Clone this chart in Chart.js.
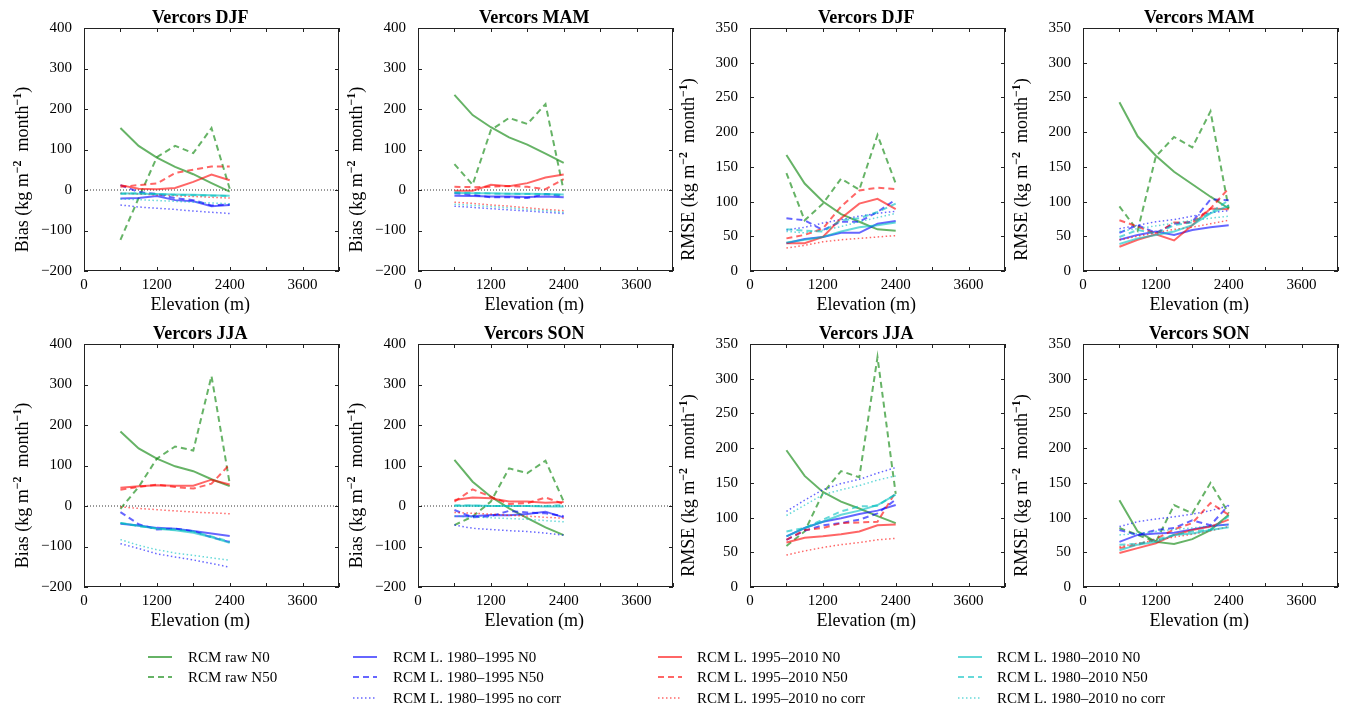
<!DOCTYPE html>
<html>
<head>
<meta charset="utf-8">
<script src="https://cdn.jsdelivr.net/npm/chart.js@4.4.1/dist/chart.umd.min.js"></script>
<style>
  body { margin: 0; background: #fff; width: 1349px; height: 709px; position: relative; overflow: hidden; font-family: "Liberation Serif", serif; }
  canvas { position: absolute; }
  .leg { position: absolute; font-size: 15px; line-height: 16px; white-space: nowrap; color: #000; }
  .leg svg { position: absolute; }
</style>
</head>
<body>
<script>
// elevation bands (m)
const elevations = [600, 900, 1200, 1500, 1800, 2100, 2400];

const seriesLabels = [
  "RCM raw N0", "RCM raw N50",
  "RCM L. 1980–1995 N0", "RCM L. 1980–1995 N50", "RCM L. 1980–1995 no corr",
  "RCM L. 1995–2010 N0", "RCM L. 1995–2010 N50", "RCM L. 1995–2010 no corr",
  "RCM L. 1980–2010 N0", "RCM L. 1980–2010 N50", "RCM L. 1980–2010 no corr",
];

// rows follow seriesLabels order
const biasDJF = [
  [153, 109, 80, 57, 39, 17, -4],
  [-123, -20, 81, 109, 91, 153, 3],
  [-21, -20, -15, -25, -28, -40, -37],
  [12, -5, -10, -20, -25, -38, -36],
  [-37, -42, -45, -48, -52, -55, -58],
  [12, 3, 2, 5, 20, 38, 24],
  [8, 12, 16, 42, 50, 58, 58],
  [-8, -10, -12, -14, -16, -18, -20],
  [-8, -9, -10, -11, -12, -13, -14],
  [-10, -8, -10, -12, -13, -14, -15],
  [-22, -24, -26, -28, -30, -32, -34],
];
const biasMAM = [
  [235, 185, 155, 130, 112, 90, 67],
  [64, 13, 148, 178, 163, 212, -2],
  [-14, -15, -16, -16, -17, -16, -18],
  [-8, -12, -18, -18, -20, -10, -15],
  [-40, -43, -46, -49, -52, -55, -58],
  [-2, -2, 13, 9, 17, 31, 38],
  [8, 7, 8, 10, 8, 2, 27],
  [-30, -33, -37, -40, -44, -48, -51],
  [-7, -8, -8, -9, -9, -10, -11],
  [-6, -7, -9, -9, -10, -10, -12],
  [-35, -38, -41, -44, -48, -51, -55],
];
const rmseDJF = [
  [167, 126, 100, 82, 71, 60, 58],
  [141, 73, 97, 133, 117, 196, 126],
  [40, 46, 49, 55, 55, 68, 72],
  [76, 73, 59, 71, 71, 85, 103],
  [59, 63, 69, 74, 79, 83, 86],
  [40, 40, 49, 76, 97, 104, 89],
  [47, 52, 61, 93, 116, 120, 118],
  [33, 37, 42, 45, 47, 49, 51],
  [41, 45, 49, 57, 63, 66, 70],
  [60, 58, 57, 73, 76, 85, 97],
  [57, 55, 59, 64, 71, 77, 83],
];
const rmseMAM = [
  [243, 194, 166, 143, 125, 107, 90],
  [93, 58, 165, 193, 178, 230, 90],
  [45, 52, 57, 52, 59, 63, 66],
  [55, 66, 55, 68, 71, 103, 102],
  [61, 66, 71, 74, 79, 84, 87],
  [35, 45, 53, 44, 66, 90, 89],
  [73, 64, 53, 70, 70, 90, 119],
  [45, 50, 55, 60, 63, 68, 73],
  [39, 47, 52, 57, 66, 83, 94],
  [49, 59, 54, 66, 70, 84, 102],
  [57, 61, 65, 69, 73, 76, 79],
];
const biasJJA = [
  [184, 142, 117, 98, 86, 66, 49],
  [-7, 47, 117, 147, 137, 321, 55],
  [-44, -48, -54, -56, -62, -68, -74],
  [-15, -45, -58, -56, -62, -77, -89],
  [-93, -105, -118, -126, -133, -142, -151],
  [45, 49, 51, 50, 50, 65, 53],
  [40, 47, 53, 47, 43, 55, 103],
  [-2, -6, -9, -12, -15, -17, -19],
  [-42, -49, -56, -60, -66, -77, -91],
  [-42, -50, -55, -58, -63, -75, -88],
  [-83, -97, -108, -116, -122, -128, -134],
];
const biasSON = [
  [114, 60, 23, -6, -30, -53, -72],
  [-47, -26, 11, 93, 81, 112, 11],
  [-25, -25, -22, -23, -20, -14, -28],
  [-10, -28, -25, -12, -16, -18, -25],
  [-47, -55, -58, -61, -63, -67, -72],
  [15, 21, 19, 11, 11, 8, 10],
  [11, 41, 23, 5, 7, 21, 5],
  [-16, -18, -20, -23, -25, -28, -30],
  [0, 1, 0, 0, 0, -1, -1],
  [2, 1, 0, 0, 0, 0, 2],
  [-25, -27, -29, -31, -33, -36, -39],
];
const rmseJJA = [
  [197, 160, 137, 123, 113, 102, 92],
  [59, 80, 135, 167, 158, 331, 134],
  [73, 85, 94, 99, 105, 110, 118],
  [68, 81, 89, 92, 97, 106, 126],
  [109, 125, 140, 149, 155, 164, 172],
  [64, 71, 73, 76, 80, 89, 90],
  [68, 82, 85, 92, 93, 94, 137],
  [46, 52, 57, 61, 64, 68, 70],
  [73, 85, 94, 104, 110, 118, 133],
  [80, 85, 97, 109, 116, 117, 134],
  [103, 118, 133, 140, 146, 154, 160],
];
const rmseSON = [
  [125, 80, 65, 62, 69, 82, 104],
  [85, 75, 65, 118, 106, 150, 106],
  [65, 75, 77, 78, 83, 88, 90],
  [82, 75, 82, 85, 96, 89, 118],
  [87, 94, 98, 101, 105, 110, 117],
  [49, 56, 63, 75, 82, 87, 97],
  [56, 61, 69, 83, 92, 121, 104],
  [58, 63, 67, 72, 76, 81, 87],
  [53, 61, 65, 75, 77, 82, 86],
  [61, 62, 68, 75, 80, 83, 102],
  [75, 77, 80, 83, 85, 88, 90],
];

// styles
const GREEN = "rgba(0,128,0,0.6)";
const BLUE = "rgba(0,0,255,0.6)";
const RED = "rgba(255,0,0,0.6)";
const CYAN = "rgba(0,191,191,0.6)";
const seriesColors = [GREEN, GREEN, BLUE, BLUE, BLUE, RED, RED, RED, CYAN, CYAN, CYAN];
const SOLID = [], DASH = [6, 4], DOT = [1.5, 2.5];
const seriesDash = [SOLID, DASH, SOLID, DASH, DOT, SOLID, DASH, DOT, SOLID, DASH, DOT];
const seriesWidth = [2, 2, 2, 2, 1.5, 2, 2, 1.5, 2, 2, 1.5];

const FONT = "Liberation Serif";
const PLOT_W = 257;
const Y_AXIS_W = 84;
const RIGHT_PAD = 3;
const TOP_PAD = 28;
// trailing spaces nudge centred titles a little left of the plot centre, as in the reference
const NUDGE = "     ";

const panels = [
  { title: "Vercors DJF", data: biasDJF, kind: "bias", left: 84, top: 28 },
  { title: "Vercors MAM", data: biasMAM, kind: "bias", left: 418, top: 28 },
  { title: "Vercors DJF", data: rmseDJF, kind: "rmse", left: 750, top: 28 },
  { title: "Vercors MAM", data: rmseMAM, kind: "rmse", left: 1083, top: 28 },
  { title: "Vercors JJA", data: biasJJA, kind: "bias", left: 84, top: 344 },
  { title: "Vercors SON", data: biasSON, kind: "bias", left: 418, top: 344 },
  { title: "Vercors JJA", data: rmseJJA, kind: "rmse", left: 750, top: 344 },
  { title: "Vercors SON", data: rmseSON, kind: "rmse", left: 1083, top: 344 },
];

// box around the axes with inward ticks on all four sides
const framePlugin = {
  id: "frame",
  afterDraw(chart) {
    const { ctx, chartArea: a, scales } = chart;
    ctx.save();
    ctx.strokeStyle = "#222";
    ctx.lineWidth = 1;
    ctx.strokeRect(Math.round(a.left) + 0.5, Math.round(a.top) + 0.5, Math.round(a.width) - 1, Math.round(a.height) - 1);
    ctx.beginPath();
    scales.x.ticks.forEach((t) => {
      const px = Math.round(scales.x.getPixelForValue(t.value)) + 0.5;
      ctx.moveTo(px, a.bottom); ctx.lineTo(px, a.bottom - 4);
      ctx.moveTo(px, a.top); ctx.lineTo(px, a.top + 4);
    });
    scales.y.ticks.forEach((t) => {
      const py = Math.round(scales.y.getPixelForValue(t.value)) + 0.5;
      ctx.moveTo(a.left, py); ctx.lineTo(a.left + 4, py);
      ctx.moveTo(a.right, py); ctx.lineTo(a.right - 4, py);
    });
    ctx.stroke();
    ctx.restore();
  },
};

// y axis title with superscripts
const yTitlePlugin = {
  id: "yTitle",
  afterDraw(chart, args, opts) {
    const { ctx, chartArea: a } = chart;
    const parts = [
      { t: opts.name + " (kg m", sup: false },
      { t: "\u22122", sup: true },
      { t: "  month", sup: false },
      { t: "\u22121", sup: true },
      { t: ")", sup: false },
    ];
    const main = `18px "${FONT}"`;
    const small = `bold 12px "${FONT}"`;
    let total = 0;
    parts.forEach((p) => {
      ctx.font = p.sup ? small : main;
      p.w = ctx.measureText(p.t).width;
      total += p.w;
    });
    ctx.save();
    ctx.translate(a.left - 62, (a.top + a.bottom) / 2 + 20);
    ctx.rotate(-Math.PI / 2);
    ctx.fillStyle = "#000";
    ctx.textBaseline = "alphabetic";
    ctx.textAlign = "left";
    let x = -total / 2;
    parts.forEach((p) => {
      ctx.font = p.sup ? small : main;
      ctx.fillText(p.t, x, p.sup ? -1 : 6);
      x += p.w;
    });
    ctx.restore();
  },
};

function minusFmt(v) {
  return v < 0 ? "\u2212" + Math.abs(v) : String(v);
}

panels.forEach((p) => {
  const canvas = document.createElement("canvas");
  canvas.width = Y_AXIS_W + PLOT_W + RIGHT_PAD;
  canvas.height = 320;
  canvas.style.left = p.left - Y_AXIS_W + "px";
  canvas.style.top = p.top - TOP_PAD + "px";
  document.body.appendChild(canvas);

  const isBias = p.kind === "bias";
  const datasets = p.data.map((vals, s) => ({
    label: seriesLabels[s],
    data: elevations.map((e, k) => ({ x: e, y: vals[k] })),
    borderColor: seriesColors[s],
    borderDash: seriesDash[s],
    borderWidth: seriesWidth[s],
    pointRadius: 0,
    tension: 0,
    fill: false,
    order: seriesLabels.length - s,
  }));
  if (isBias) {
    datasets.push({
      label: "zero",
      data: [{ x: 0, y: 0 }, { x: 4200, y: 0 }],
      borderColor: "#333",
      borderWidth: 1,
      borderDash: [1, 2],
      pointRadius: 0,
      order: 99,
    });
  }

  new Chart(canvas.getContext("2d"), {
    type: "line",
    data: { datasets },
    options: {
      responsive: false,
      animation: false,
      layout: { padding: { right: RIGHT_PAD, left: 0, top: 0, bottom: 0 } },
      plugins: {
        legend: { display: false },
        tooltip: { enabled: false },
        title: {
          display: true,
          fullSize: false,
          text: p.title + NUDGE,
          color: "#000",
          font: { family: FONT, size: 18, weight: "bold", lineHeight: 1 },
          padding: { top: 9, bottom: 1 },
        },
        yTitle: { name: isBias ? "Bias" : "RMSE" },
      },
      scales: {
        x: {
          type: "linear",
          min: 0,
          max: 4200,
          ticks: {
            stepSize: 600,
            autoSkip: false,
            maxRotation: 0,
            padding: 5,
            color: "#000",
            font: { family: FONT, size: 15 },
            callback: (v) => (v % 1200 === 0 ? String(v) : ""),
          },
          grid: { display: false, drawTicks: false },
          border: { display: false },
          title: {
            display: true,
            text: "Elevation (m)" + NUDGE,
            color: "#000",
            font: { family: FONT, size: 18 },
            padding: { top: 0, bottom: 4 },
          },
          afterFit: (s) => { s.height = 49; },
        },
        y: {
          min: isBias ? -200 : 0,
          max: isBias ? 400 : 350,
          ticks: {
            stepSize: isBias ? 100 : 50,
            padding: 12,
            color: "#000",
            font: { family: FONT, size: 15 },
            callback: minusFmt,
          },
          grid: { display: false, drawTicks: false },
          border: { display: false },
          afterFit: (s) => { s.width = Y_AXIS_W; },
        },
      },
    },
    plugins: [framePlugin, yTitlePlugin],
  });
});

// legend (four columns)
const legendCols = [[0, 1], [2, 3, 4], [5, 6, 7], [8, 9, 10]];
const legendSampleX = [148, 353, 658, 958];
const legendTextX = [188, 393, 697, 997];
const legendRowY = [657, 677, 698];
legendCols.forEach((col, c) => {
  col.forEach((s, r) => {
    const y = legendRowY[r];
    const dash = seriesDash[s].length ? seriesDash[s].join(" ") : "none";
    const sample = document.createElement("div");
    sample.className = "leg";
    sample.style.left = legendSampleX[c] + "px";
    sample.style.top = y - 3 + "px";
    sample.innerHTML = `<svg width="24" height="6" style="left:0;top:0"><line x1="0" y1="3" x2="24" y2="3" stroke="${seriesColors[s]}" stroke-width="${seriesWidth[s]}" stroke-dasharray="${dash}"/></svg>`;
    document.body.appendChild(sample);
    const label = document.createElement("div");
    label.className = "leg";
    label.style.left = legendTextX[c] + "px";
    label.style.top = y - 8 + "px";
    label.textContent = seriesLabels[s];
    document.body.appendChild(label);
  });
});
</script>
</body>
</html>
